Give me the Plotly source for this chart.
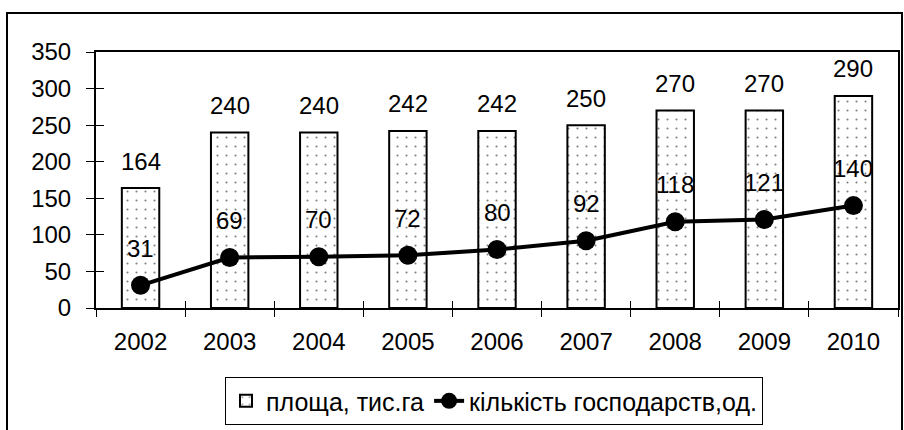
import plotly.graph_objects as go

years = ["2002", "2003", "2004", "2005", "2006", "2007", "2008", "2009", "2010"]
area = [164, 240, 240, 242, 242, 250, 270, 270, 290]
farms = [31, 69, 70, 72, 80, 92, 118, 121, 140]
yticks = [0, 50, 100, 150, 200, 250, 300, 350]

FONT = "Liberation Sans, Arial, sans-serif"

fig = go.Figure()
fig.add_trace(go.Bar(
    x=years, y=area, name="площа, тис.га",
    marker=dict(color="white", line=dict(color="black", width=2),
                pattern=dict(shape=".", size=9, solidity=0.045,
                             fgcolor="black", bgcolor="white")),
    width=0.42,
))
fig.add_trace(go.Scatter(
    x=years, y=farms, name="кількість господарств,од.",
    mode="lines+markers",
    line=dict(color="black", width=4),
    marker=dict(color="black", size=19),
))
# invisible trace for overlay axes (cross ticks)
fig.add_trace(go.Scatter(x=[0], y=[0], xaxis="x2", yaxis="y2",
                         mode="markers", marker=dict(opacity=0),
                         showlegend=False, hoverinfo="skip"))

annotations = []
for i, v in enumerate(area):
    annotations.append(dict(x=i, y=v, xref="x", yref="y", text=str(v),
                            showarrow=False, yanchor="middle", yshift=27,
                            font=dict(size=24, family=FONT, color="black")))
for i, v in enumerate(farms):
    annotations.append(dict(x=i, y=v, xref="x", yref="y", text=str(v),
                            showarrow=False, yanchor="middle", yshift=37,
                            font=dict(size=24, family=FONT, color="black")))

fig.update_layout(
    width=904, height=430,
    margin=dict(l=96, r=6, t=52, b=122, autoexpand=False),
    paper_bgcolor="white", plot_bgcolor="white",
    font=dict(family=FONT, size=24, color="black"),
    showlegend=True,
    legend=dict(orientation="h", x=(494 - 96) / 802, xanchor="center",
                y=-0.27, yanchor="top",
                bordercolor="black", borderwidth=1,
                font=dict(size=25, family=FONT), bgcolor="white",
                tracegroupgap=0),
    bargap=0.58,
    xaxis=dict(type="category", tickson="boundaries", ticks="outside", ticklen=7,
               tickwidth=1, tickcolor="black",
               showline=True, linecolor="black", linewidth=2, mirror=True,
               tickfont=dict(size=24, family=FONT), showgrid=False,
               ticklabelstandoff=11,
               range=[-0.5, 8.5]),
    yaxis=dict(range=[0, 350], tickvals=yticks, ticks="outside", ticklen=8,
               tickwidth=1, tickcolor="black",
               showline=True, linecolor="black", linewidth=2, mirror=True,
               showgrid=False, zeroline=False, ticklabelstandoff=10,
               tickfont=dict(size=24, family=FONT)),
    xaxis2=dict(overlaying="x", range=[-0.5, 8.5], anchor="y2",
                tickvals=[0.5, 1.5, 2.5, 3.5, 4.5, 5.5, 6.5, 7.5, 8.5],
                ticks="inside", ticklen=7, tickwidth=1, tickcolor="black",
                showticklabels=False, showgrid=False, zeroline=False, showline=False),
    yaxis2=dict(overlaying="y", range=[0, 350], anchor="x2", side="left",
                tickvals=yticks, ticks="inside", ticklen=8, tickwidth=1,
                tickcolor="black", showticklabels=False, showgrid=False,
                zeroline=False, showline=False),
    annotations=annotations,
    shapes=[dict(type="rect", xref="paper", yref="paper",
                 x0=-89/802, x1=1+4/802, y0=-130/256, y1=1+39/256,
                 line=dict(color="black", width=2), layer="below")],
)

fig.write_html("out.html", config={"displayModeBar": False},
               post_script="document.body.style.margin='0';document.body.style.overflow='hidden';")
